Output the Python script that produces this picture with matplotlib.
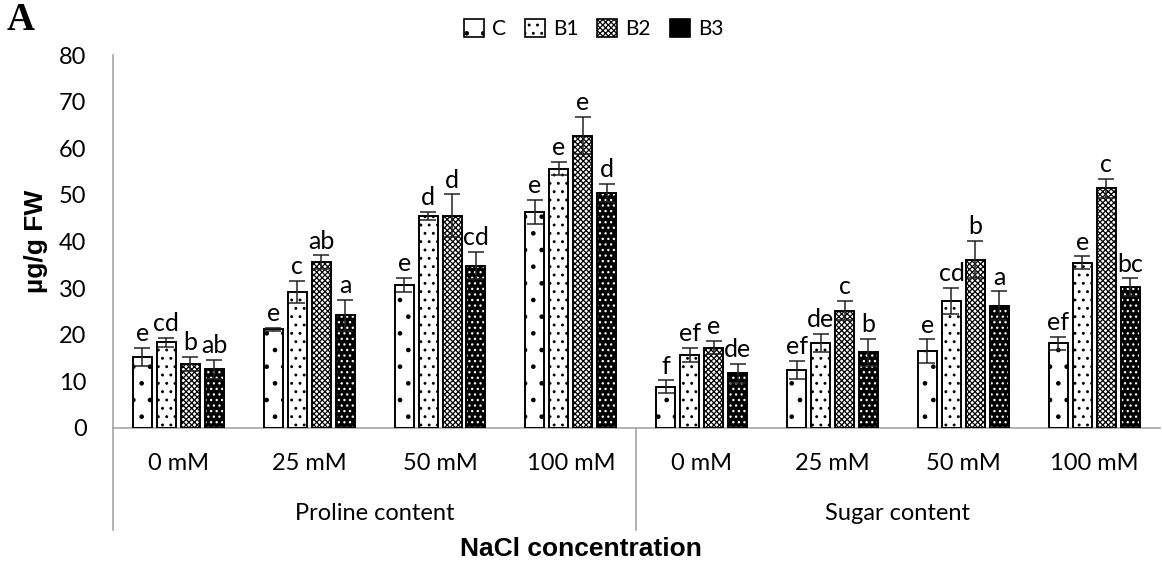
import matplotlib
matplotlib.use("Agg")
import matplotlib.pyplot as plt
import matplotlib.transforms as mtransforms
from matplotlib.patches import Patch
import numpy as np

# Data: two measured traits, four NaCl levels each, four treatments
traits = ["Proline content", "Sugar content"]
levels = ["0 mM", "25 mM", "50 mM", "100 mM"]
series = ["C", "B1", "B2", "B3"]

means = {
    "C":  [15.2, 21.2, 30.7, 46.4, 8.8, 12.5, 16.5, 18.2],
    "B1": [18.4, 29.2, 45.5, 55.6, 15.7, 18.2, 27.2, 35.4],
    "B2": [13.7, 35.5, 45.5, 62.7, 17.2, 25.2, 36.1, 51.4],
    "B3": [12.6, 24.2, 34.8, 50.4, 11.7, 16.2, 26.2, 30.2],
}
errors = {
    "C":  [2.0, 0.3, 1.5, 2.6, 1.4, 1.9, 2.5, 1.4],
    "B1": [1.0, 2.3, 0.9, 1.4, 1.5, 1.9, 2.8, 1.4],
    "B2": [1.5, 1.5, 4.6, 4.0, 1.4, 2.0, 4.0, 2.0],
    "B3": [2.0, 3.3, 2.9, 2.0, 2.0, 2.9, 3.1, 1.9],
}
letters = {
    "C":  ["e", "e", "e", "e", "f", "ef", "e", "ef"],
    "B1": ["cd", "c", "d", "e", "ef", "de", "cd", "e"],
    "B2": ["b", "ab", "d", "e", "e", "c", "b", "c"],
    "B3": ["ab", "a", "cd", "d", "de", "b", "a", "bc"],
}

# fill styles: (facecolor, hatch colour, hatch)
styles = {
    "C":  ("white", "black", "."),
    "B1": ("white", "black", ".."),
    "B2": ("white", "black", "xxxxxx"),
    "B3": ("black", "white", "..."),
}

FONT = "Lato"
plt.rcParams["font.family"] = [FONT, "DejaVu Sans"]
plt.rcParams["hatch.linewidth"] = 0.9

fig = plt.figure(figsize=(11.62, 5.63), dpi=100)
ax = fig.add_axes([0.0972, 0.2398, 0.9008, 0.6625])

n_groups = len(traits) * len(levels)
x = np.arange(n_groups)
width = 0.145
step = 0.183

for i, name in enumerate(series):
    pos = x + (i - 1.5) * step
    fc, hc, hatch = styles[name]
    # hatched fill first, then outline and error bars on top
    ax.bar(pos, means[name], width, color=fc, edgecolor=hc, hatch=hatch,
           linewidth=0, zorder=2)
    ax.bar(pos, means[name], width, facecolor="none", edgecolor="black",
           linewidth=1.4, zorder=3)
    ax.errorbar(pos, means[name], yerr=errors[name], fmt="none",
                ecolor="#222222", elinewidth=1.1, capsize=6, capthick=1.1,
                zorder=4)
    for xp, m, e, lab in zip(pos, means[name], errors[name], letters[name]):
        ax.text(xp, m + e + 0.6, lab, ha="center", va="bottom",
                fontsize=18, zorder=5)

ax.set_xlim(-0.5, n_groups - 0.5)
ax.set_ylim(0, 80)
ax.set_yticks(np.arange(0, 81, 10))
ax.tick_params(axis="y", length=0, pad=19, labelsize=17)
ax.set_xticks([])

for side in ("top", "right"):
    ax.spines[side].set_visible(False)
for side in ("left", "bottom"):
    ax.spines[side].set_color("#a6a6a6")
    ax.spines[side].set_linewidth(1.2)

# two-level category axis
trans = mtransforms.blended_transform_factory(ax.transData, ax.transAxes)
for gx in x:
    ax.text(gx, -0.094, levels[gx % len(levels)], transform=trans,
            ha="center", va="center", fontsize=17)
for k, trait in enumerate(traits):
    centre = k * len(levels) + (len(levels) - 1) / 2
    ax.text(centre, -0.23, trait, transform=trans, ha="center",
            va="center", fontsize=17)
for xd in (-0.5, len(levels) - 0.5):
    ax.plot([xd, xd], [0, -0.273], transform=trans, color="#a6a6a6",
            linewidth=1.2, clip_on=False)

ax.set_ylabel("µg/g FW", fontsize=19, fontweight="bold",
              family=["Liberation Sans", "DejaVu Sans"], labelpad=8)
fig.text(0.5, 0.025, "NaCl concentration", ha="center", va="center",
         fontsize=19, fontweight="bold", family=["Liberation Sans", "DejaVu Sans"])
fig.text(0.006, 0.963, "A", ha="left", va="center", fontsize=28,
         fontweight="bold", family=["Liberation Serif", "DejaVu Serif"])

handles = []
for name in series:
    fc, hc, hatch = styles[name]
    handles.append(Patch(facecolor=fc, edgecolor=hc, hatch=hatch,
                         linewidth=0, label=name))
leg = fig.legend(handles=handles, loc="center", bbox_to_anchor=(0.511, 0.948),
                 ncol=4, frameon=False, fontsize=15, handlelength=0.95,
                 handleheight=0.95, handletextpad=0.4, columnspacing=0.9)
for patch in leg.get_patches():
    patch.set_edgecolor("black")
    patch.set_linewidth(1.2)

fig.savefig("out.png", dpi=100)
